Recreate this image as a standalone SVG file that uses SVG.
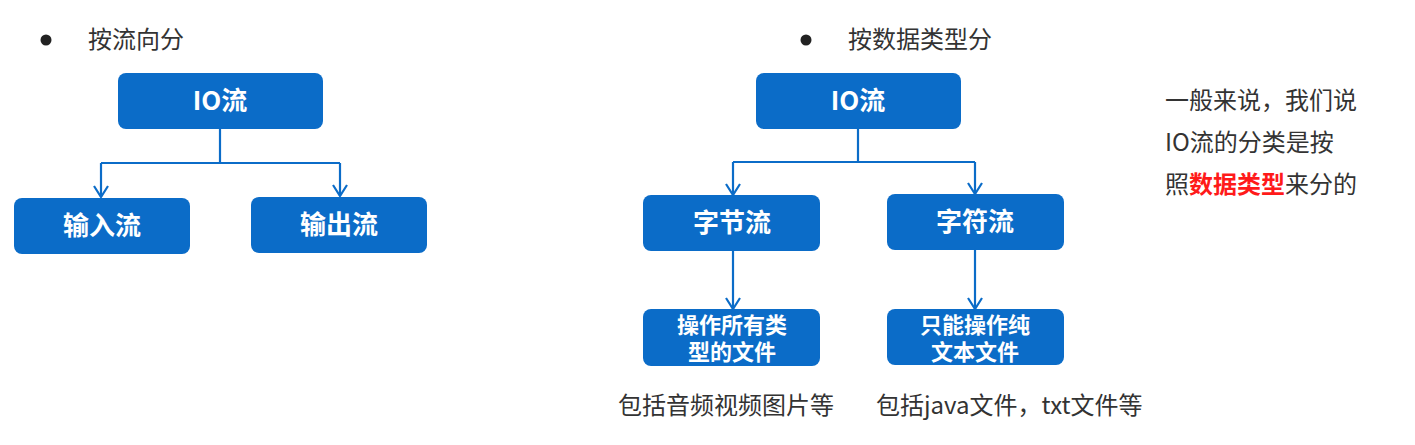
<svg xmlns="http://www.w3.org/2000/svg" width="1415" height="445" viewBox="0 0 1415 445">
<style>
.box{fill:#0b6cc8;}
.lbl{font-family:"Noto Sans CJK SC",sans-serif;font-weight:bold;font-size:26px;fill:#fff;text-anchor:middle;}
.lbl2{font-family:"Liberation Sans","Noto Sans CJK SC",sans-serif;font-weight:bold;font-size:22px;fill:#fff;text-anchor:middle;}
.txt{font-family:"Noto Sans CJK SC",sans-serif;font-size:24px;fill:#333;}
.red{fill:#ff1a1a;font-weight:bold;}
.con{fill:none;stroke:#0b6cc8;stroke-width:2.2;}
</style>
<defs>
<marker id="arr" viewBox="0 0 14 16" refX="12" refY="8" markerWidth="14" markerHeight="16" markerUnits="userSpaceOnUse" orient="auto">
<path d="M1,1 L12,8 L1,15" fill="none" stroke="#0b6cc8" stroke-width="2.2"/>
</marker>
</defs>
<rect width="1415" height="445" fill="#fff"/>
<g id="heading-left">
<circle cx="46" cy="40" r="5.5" fill="#222"/>
<text class="txt" x="88" y="48">按流向分</text>
</g>
<g id="heading-right">
<circle cx="806" cy="40" r="5.5" fill="#222"/>
<text class="txt" x="848" y="48">按数据类型分</text>
</g>
<g id="connectors">
<path class="con" d="M220,129 V163 M101,163 H340"/>
<path class="con" d="M101,163 V197" marker-end="url(#arr)"/>
<path class="con" d="M340,163 V196" marker-end="url(#arr)"/>
<path class="con" d="M858,129 V162 M733,162 H975"/>
<path class="con" d="M733,162 V195" marker-end="url(#arr)"/>
<path class="con" d="M975,162 V194" marker-end="url(#arr)"/>
<path class="con" d="M733,251 V309" marker-end="url(#arr)"/>
<path class="con" d="M975,250 V309" marker-end="url(#arr)"/>
</g>
<g id="io-left">
<rect class="box" x="118" y="73" width="205" height="56" rx="8"/>
<text class="lbl" x="220" y="110">IO流</text>
</g>
<g id="input">
<rect class="box" x="14" y="198" width="176" height="56" rx="8"/>
<text class="lbl" x="102" y="235">输入流</text>
</g>
<g id="output">
<rect class="box" x="251" y="197" width="176" height="56" rx="8"/>
<text class="lbl" x="339" y="234">输出流</text>
</g>
<g id="io-right">
<rect class="box" x="756" y="73" width="205" height="56" rx="8"/>
<text class="lbl" x="858" y="110">IO流</text>
</g>
<g id="byte">
<rect class="box" x="643" y="195" width="177" height="56" rx="8"/>
<text class="lbl" x="732" y="232">字节流</text>
</g>
<g id="char">
<rect class="box" x="887" y="194" width="177" height="56" rx="8"/>
<text class="lbl" x="975" y="231">字符流</text>
</g>
<g id="byte-desc">
<rect class="box" x="643" y="309" width="177" height="57" rx="8"/>
<text class="lbl2"><tspan x="732" y="333">操作所有类</tspan><tspan x="732" y="360">型的文件</tspan></text>
</g>
<g id="char-desc">
<rect class="box" x="887" y="309" width="177" height="56" rx="8"/>
<text class="lbl2"><tspan x="975" y="333">只能操作纯</tspan><tspan x="975" y="360">文本文件</tspan></text>
</g>
<g id="captions">
<text class="txt" x="618" y="414">包括音频视频图片等</text>
<text class="txt" x="876" y="414">包括java文件，txt文件等</text>
</g>
<g id="note">
<text class="txt" x="1165" y="109">一般来说，我们说</text>
<text class="txt" x="1165" y="151">IO流的分类是按</text>
<text class="txt" x="1165" y="193">照<tspan class="red">数据类型</tspan>来分的</text>
</g>
</svg>
